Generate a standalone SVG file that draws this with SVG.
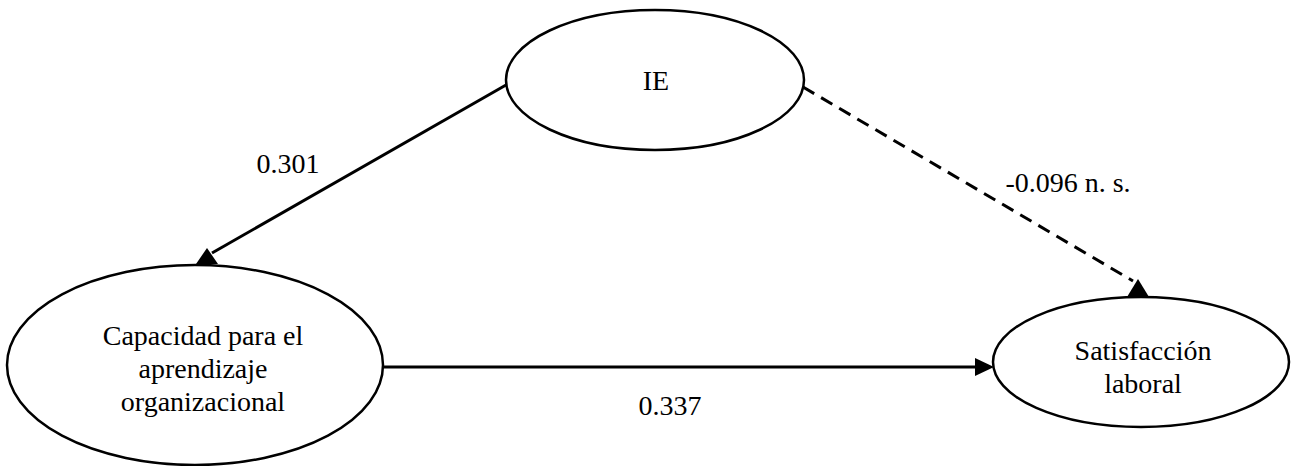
<svg xmlns="http://www.w3.org/2000/svg" width="1294" height="466" viewBox="0 0 1294 466">
<style>
.node{fill:#fff;stroke:#000;stroke-width:2.5}
.lbl{font-family:'Liberation Serif','Times New Roman','DejaVu Serif',serif;font-size:28px;fill:#000;text-anchor:middle}
.edge{stroke:#000;stroke-width:3;fill:none}
.dash{stroke-dasharray:13 8}
.head{fill:#000}
</style>
<rect width="1294" height="466" fill="#fff"/>
<g id="connectors">
<line class="edge" x1="506" y1="85" x2="212" y2="253"/>
<polygon class="head" points="207,248 218,264 196,264"/>
<line class="edge dash" x1="803" y1="87" x2="1133" y2="281"/>
<polygon class="head" points="1138,279 1149,297 1127,297"/>
<line class="edge" x1="383" y1="367" x2="978" y2="367"/>
<polygon class="head" points="994,367 975,358 975,376"/>
<text class="lbl" x="288" y="173">0.301</text>
<text class="lbl" x="1068" y="192">-0.096 n. s.</text>
<text class="lbl" x="670" y="415">0.337</text>
</g>
<g id="node-ie">
<ellipse class="node" cx="655" cy="80" rx="149" ry="70"/>
<text class="lbl" x="656" y="90">IE</text>
</g>
<g id="node-capacidad">
<ellipse class="node" cx="195" cy="365" rx="188" ry="100"/>
<text class="lbl" x="203" y="345">Capacidad para el</text>
<text class="lbl" x="203" y="378">aprendizaje</text>
<text class="lbl" x="203" y="411">organizacional</text>
</g>
<g id="node-satisfaccion">
<ellipse class="node" cx="1141" cy="362" rx="148" ry="65"/>
<text class="lbl" x="1143" y="360">Satisfacción</text>
<text class="lbl" x="1143" y="393">laboral</text>
</g>
</svg>
